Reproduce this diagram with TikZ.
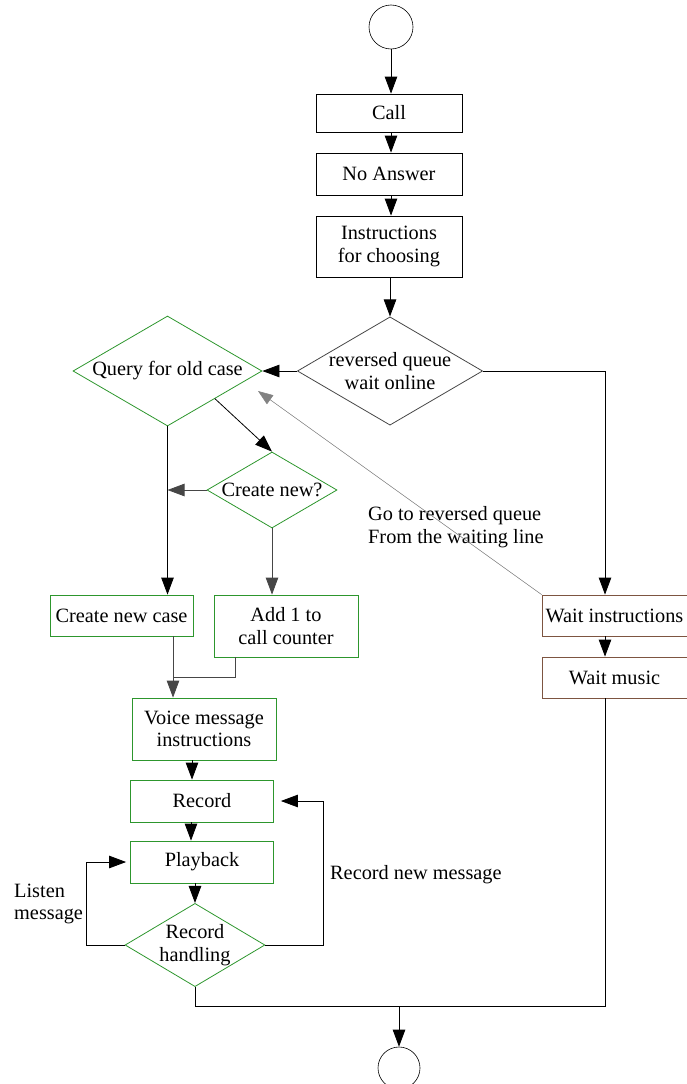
\documentclass[tikz,border=0pt]{standalone}
\usepackage{fontspec}
\setmainfont{Liberation Serif}
\usetikzlibrary{shapes.geometric,arrows.meta}
\definecolor{boxgreen}{RGB}{45,150,45}
\definecolor{boxbrown}{RGB}{125,85,65}
\definecolor{linegray}{RGB}{70,70,70}
\definecolor{backgray}{RGB}{130,130,130}
\tikzset{
  every node/.style={font=\fontsize{20.3}{22.5}\selectfont},
  arr/.style={draw=black,line width=0.8pt,-{Triangle[length=17pt,width=12.5pt]}},
  ln/.style={draw=black,line width=0.8pt},
  blackbox/.style={draw=black,line width=0.8pt,rectangle,inner sep=0pt,align=center},
  greenbox/.style={draw=boxgreen,line width=0.8pt,rectangle,inner sep=0pt,align=center},
  brownbox/.style={draw=boxbrown,line width=0.8pt,rectangle,inner sep=0pt,align=center},
  decision/.style={diamond,inner sep=0pt,align=center,line width=0.8pt},
  terminal/.style={circle,draw=black,line width=0.6pt,inner sep=0pt},
  lbl/.style={anchor=west,align=left,inner sep=0pt}
}
\begin{document}
\begin{tikzpicture}[x=1pt,y=-1pt]
\useasboundingbox (0,0) rectangle (687,1084);

% main column
\node[terminal,minimum size=44pt] (start) at (391,27) {};
\node[blackbox,minimum width=146pt,minimum height=38pt] (call) at (389,113) {Call};
\node[blackbox,minimum width=146pt,minimum height=42pt] (noans) at (389,174) {No Answer};
\node[blackbox,minimum width=146pt,minimum height=61pt] (instr) at (389,246.5) {Instructions\\for choosing};
\node[decision,draw=linegray,minimum width=185pt,minimum height=108pt,aspect=1.71] (rev) at (390,371) {reversed queue\\wait online};

% case handling branch
\node[decision,draw=boxgreen,minimum width=189pt,minimum height=110pt,aspect=1.72] (query) at (167.5,371) {Query for old case};
\node[decision,draw=boxgreen,minimum width=130pt,minimum height=76pt,aspect=1.71] (cnew) at (272,490) {Create new?};
\node[greenbox,minimum width=143pt,minimum height=41pt] (cncase) at (121.5,615.5) {Create new case};
\node[greenbox,minimum width=144pt,minimum height=62pt] (addone) at (286,626) {Add 1 to\\call counter};
\node[greenbox,minimum width=144pt,minimum height=62pt] (voice) at (204,729) {Voice message\\instructions};
\node[greenbox,minimum width=143pt,minimum height=42pt] (record) at (202,801) {Record};
\node[greenbox,minimum width=143pt,minimum height=42pt] (playback) at (202,862) {Playback};
\node[decision,draw=boxgreen,minimum width=138pt,minimum height=82pt,aspect=1.68] (rhand) at (195,945) {Record\\handling};

% waiting branch
\node[brownbox,minimum width=145pt,minimum height=41pt] (waitin) at (614.5,615.5) {Wait instructions};
\node[brownbox,minimum width=145pt,minimum height=41pt] (waitmu) at (614.5,677.5) {Wait music};

\node[terminal,minimum size=42pt] (stop) at (399,1068) {};

% labels
\node[lbl] (lgo) at (368,527) {Go to reversed queue\\From the waiting line};
\node[lbl] (lnew) at (330,875) {Record new message};
\node[lbl] (llisten) at (14,904) {Listen\\message};

% bend and junction points
\coordinate (wcol) at (605,0);
\coordinate (merge) at (173,677);
\coordinate (addout) at (235,0);
\coordinate (join) at (399,1006);
\coordinate (backtip) at (258,391);
\coordinate (listenx) at (86,0);
\coordinate (newx) at (323,0);
\coordinate (vrec) at (192,0);
\coordinate (vplay) at (191,0);

% top column
\draw[arr] (start.south) -- (start.south |- call.north);
\draw[arr] (call.south -| start.south) -- (start.south |- noans.north);
\draw[arr] (noans.south -| start.south) -- (start.south |- instr.north);
\draw[arr] (rev.north |- instr.south) -- (rev.north);
\draw[arr] (rev.west) -- (query.east);
\draw[arr] (rev.east) -| (wcol |- waitin.north);
\draw[arr] (wcol |- waitin.south) -- (wcol |- waitmu.north);
\draw[-{Triangle[length=15pt,width=11pt]},draw=backgray,fill=backgray,line width=0.5pt] (waitin.north west) -- (backtip);

% case handling connectors
\draw[arr] (query.south) -- (query.south |- cncase.north);
\draw[arr] (query.south east) -- (cnew.north);
\draw[arr,draw=linegray] (cnew.west) -- (cnew.west -| query.south);
\draw[arr,draw=linegray] (cnew.south) -- (cnew.south |- addone.north);
\draw[ln,draw=linegray] (cncase.south -| merge) -- (merge);
\draw[ln,draw=linegray] (addone.south -| addout) |- (merge);
\draw[arr,draw=linegray] (merge) -- (merge |- voice.north);
\draw[arr] (voice.south -| vrec) -- (vrec |- record.north);
\draw[arr] (record.south -| vplay) -- (vplay |- playback.north);
\draw[arr] (playback.south -| rhand.north) -- (rhand.north);
\draw[arr,shorten >=4pt] (rhand.west) -| (listenx |- playback.west) -- (playback.west);
\draw[arr,shorten >=7pt] (rhand.east) -| (newx |- record.east) -- (record.east);

% exit
\draw[ln] (rhand.south) |- (join);
\draw[ln] (wcol |- waitmu.south) |- (join);
\draw[arr] (join) -- (stop.north);
\end{tikzpicture}
\end{document}
